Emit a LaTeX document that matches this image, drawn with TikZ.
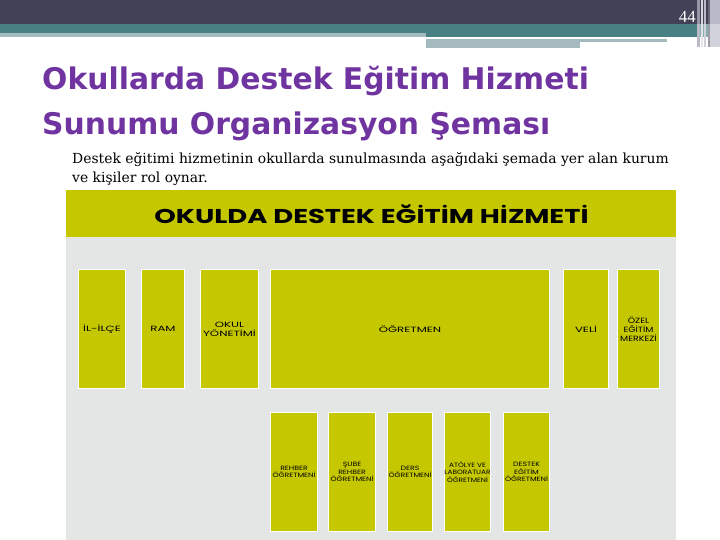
\documentclass[tikz,border=0pt]{standalone}
\usepackage{fontspec}
\setmainfont{DejaVu Serif}
\newfontfamily\titlefont{DejaVu Sans}
\newfontfamily\chartfont{Poppins}
\newfontfamily\pagefont{Liberation Serif}
\definecolor{darkband}{RGB}{66,65,86}
\definecolor{tealband}{RGB}{72,128,132}
\definecolor{lightband}{RGB}{164,186,190}
\definecolor{edgegray}{RGB}{185,186,200}
\definecolor{titlepurple}{RGB}{112,52,160}
\definecolor{chartyellow}{RGB}{197,200,0}
\definecolor{chartgray}{RGB}{228,229,229}
\tikzset{
  orgbox/.style={draw=white, line width=1pt, fill=chartyellow, anchor=north west,
    inner sep=0pt, minimum height=119pt},
  toplabel/.style={inner sep=0pt, align=center, text=black, xscale=1.55, transform shape,
    font=\chartfont\fontsize{7.6}{9}\selectfont},
  lowlabel/.style={inner sep=0pt, align=center, text=black, xscale=1.25, transform shape,
    font=\chartfont\fontsize{6.2}{7.6}\selectfont},
}
\begin{document}
\begin{tikzpicture}[x=1pt,y=-1pt]
\useasboundingbox (0,0) rectangle (720,540);
\fill[white] (0,0) rectangle (720,540);
% header bands
\fill[darkband] (0,0) rectangle (720,24);
\fill[tealband] (0,24) rectangle (720,33);
\fill[lightband] (0,33) rectangle (426,37);
\fill[tealband] (426,33) rectangle (720,37);
\fill[lightband] (426,39) rectangle (667,42);
\fill[lightband] (426,42) rectangle (580,48);
% right edge stripes
\fill[edgegray!70!darkband] (697,0) rectangle (700,47);
\fill[edgegray!60!white] (701,0) rectangle (703,47);
\fill[edgegray] (704,0) rectangle (706,47);
\fill[darkband!80!white] (708,0) rectangle (709.5,47);
\fill[edgegray] (710,0) rectangle (720,47);
\fill[white,opacity=0.35] (697,24) rectangle (720,47);
\node[anchor=base east, text=white, font=\pagefont\fontsize{17}{17}\selectfont, inner sep=0pt] (pagenum) at (696,23) {44};
% title
\node[anchor=base west, inner sep=0pt, text=titlepurple, font=\titlefont\bfseries\fontsize{29.8}{29.8}\selectfont] (title1) at (42,90) {Okullarda Destek Eğitim Hizmeti};
\node[anchor=base west, inner sep=0pt, text=titlepurple, font=\titlefont\bfseries\fontsize{29.8}{29.8}\selectfont] (title2) at (42,135) {Sunumu Organizasyon Şeması};
% subtitle
\node[anchor=base west, inner sep=0pt, font=\fontsize{13.9}{13.9}\selectfont] (sub1) at (72,164) {Destek eğitimi hizmetinin okullarda sunulmasında aşağıdaki şemada yer alan kurum};
\node[anchor=base west, inner sep=0pt, font=\fontsize{13.9}{13.9}\selectfont] (sub2) at (72,183) {ve kişiler rol oynar.};
% chart
\fill[chartgray] (66,190) rectangle (676,540);
\fill[chartyellow] (66,190) rectangle (676,237);
\node[font=\chartfont\bfseries\fontsize{20}{20}\selectfont, inner sep=0pt, xscale=1.37, transform shape] (charthead) at (371.5,214.5) {OKULDA DESTEK EĞİTİM HİZMETİ};
% first row
\node[orgbox, minimum width=47pt] (ililce) at (78,269) {};
\node[orgbox, minimum width=43pt] (ram) at (141,269) {};
\node[orgbox, minimum width=58pt] (okul) at (200,269) {};
\node[orgbox, minimum width=279pt] (ogretmen) at (270,269) {};
\node[orgbox, minimum width=45pt] (veli) at (563,269) {};
\node[orgbox, minimum width=42pt] (ozel) at (617,269) {};
\node[toplabel] (ililcet) at (ililce.center) {İL-İLÇE};
\node[toplabel] (ramt) at (ram.center) {RAM};
\node[toplabel] (okult) at (okul.center) {OKUL\\YÖNETİMİ};
\node[toplabel] (ogretment) at (ogretmen.center) {ÖĞRETMEN};
\node[toplabel] (velit) at (veli.center) {VELİ};
\node[toplabel, xscale=0.8] (ozelt) at (ozel.center) {ÖZEL\\EĞİTİM\\MERKEZİ};
% second row
\node[orgbox, minimum width=47pt] (rehber) at (270,412) {};
\node[orgbox, minimum width=47pt] (sube) at (328,412) {};
\node[orgbox, minimum width=45pt] (ders) at (387,412) {};
\node[orgbox, minimum width=46pt] (atolye) at (444,412) {};
\node[orgbox, minimum width=46pt] (destek) at (503,412) {};
\node[lowlabel] (rehbert) at (rehber.center) {REHBER\\ÖĞRETMENİ};
\node[lowlabel] (subet) at (sube.center) {ŞUBE\\REHBER\\ÖĞRETMENİ};
\node[lowlabel] (derst) at (ders.center) {DERS\\ÖĞRETMENİ};
\node[lowlabel, xscale=0.95] (atolyet) at (atolye.center) {ATÖLYE VE\\LABORATUAR\\ÖĞRETMENİ};
\node[lowlabel] (destekt) at (destek.center) {DESTEK\\EĞİTİM\\ÖĞRETMENİ};
\end{tikzpicture}
\end{document}
